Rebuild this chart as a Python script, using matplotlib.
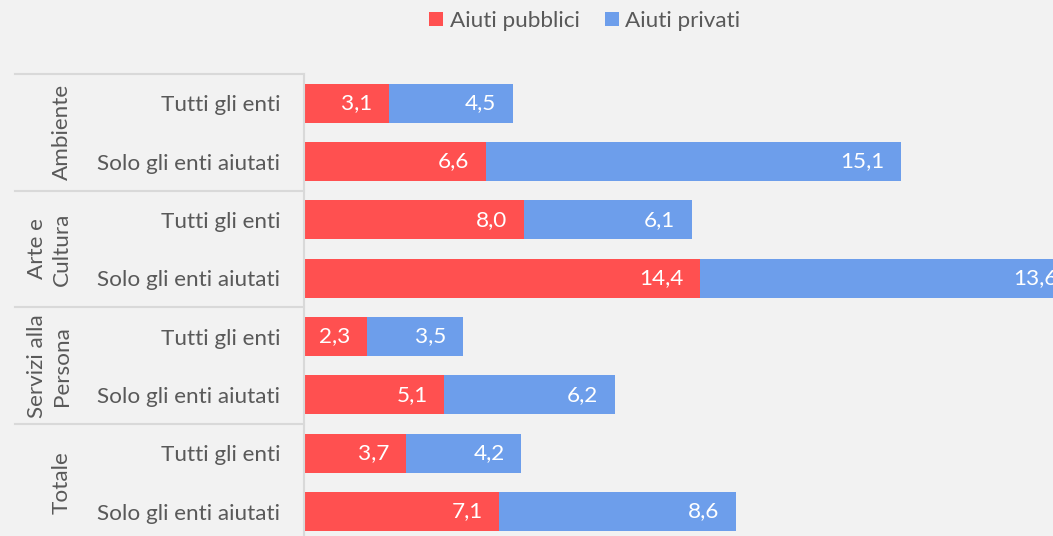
import matplotlib.pyplot as plt
import matplotlib.transforms as mtransforms
import numpy as np

groups = ["Ambiente", "Arte e\nCultura", "Servizi alla\nPersona", "Totale"]
categories = ["Tutti gli enti", "Solo gli enti aiutati"] * 4
pubblici = [3.1, 6.6, 8.0, 14.4, 2.3, 5.1, 3.7, 7.1]
privati = [4.5, 15.1, 6.1, 13.6, 3.5, 6.2, 4.2, 8.6]
series_names = ["Aiuti pubblici", "Aiuti privati"]

RED = "#FF5050"
BLUE = "#6D9EEB"
BG = "#F2F2F2"
TXT = "#595959"
GRID = "#D9D9D9"
FS = 16.2

plt.rcParams["font.family"] = ["Lato", "DejaVu Sans"]

W, H = 1053, 536
fig = plt.figure(figsize=(W / 100, H / 100), dpi=100, facecolor=BG)
ax = fig.add_axes([304 / W, 1 - 540.7 / H, 1 - 304 / W, (540.7 - 74) / H])
ax.set_facecolor(BG)

y = np.arange(len(categories))
b1 = ax.barh(y, pubblici, height=0.67, color=RED, label=series_names[0])
b2 = ax.barh(y, privati, left=pubblici, height=0.67, color=BLUE, label=series_names[1])

# value labels, right-aligned inside each segment
for vals, lefts in ((pubblici, [0] * 8), (privati, pubblici)):
    for yy, v, l in zip(y, vals, lefts):
        ax.annotate(f"{v:.1f}".replace(".", ","), (l + v, yy), xytext=(-12, 0),
                    textcoords="offset points", ha="right", va="center",
                    color="white", fontsize=FS, annotation_clip=False)

ax.set_xlim(0, (W - 304) / 27.5)
ax.set_ylim(len(categories) - 0.5, -0.5)
ax.set_xticks([])
ax.set_yticks(y)
ax.set_yticklabels(categories, fontsize=FS, color=TXT)
ax.tick_params(axis="y", length=0, pad=17)
for s in ("top", "right", "bottom"):
    ax.spines[s].set_visible(False)
ax.spines["left"].set_color(GRID)
ax.spines["left"].set_linewidth(1.5)

# group separators and rotated group names
trans = mtransforms.blended_transform_factory(fig.transFigure, ax.transData)
for i, g in enumerate(groups):
    top = 2 * i - 0.5
    ax.plot([15 / W, 304 / W], [top, top], transform=trans, color=GRID,
            lw=1.5, clip_on=False)
    ax.text(72 / W, 2 * i + 0.5, g, transform=trans, rotation=90, ha="right",
            va="center", color=TXT, fontsize=FS, linespacing=1.3,
            multialignment="center")

fig.legend(handles=[b1, b2], labels=series_names, loc="center",
           bbox_to_anchor=(585 / W, 1 - 21 / H), ncol=2, frameon=False,
           fontsize=FS, labelcolor=TXT, handlelength=0.62, handleheight=0.62,
           handletextpad=0.3, columnspacing=1.1)

fig.savefig("out.png", dpi=100, facecolor=BG)
